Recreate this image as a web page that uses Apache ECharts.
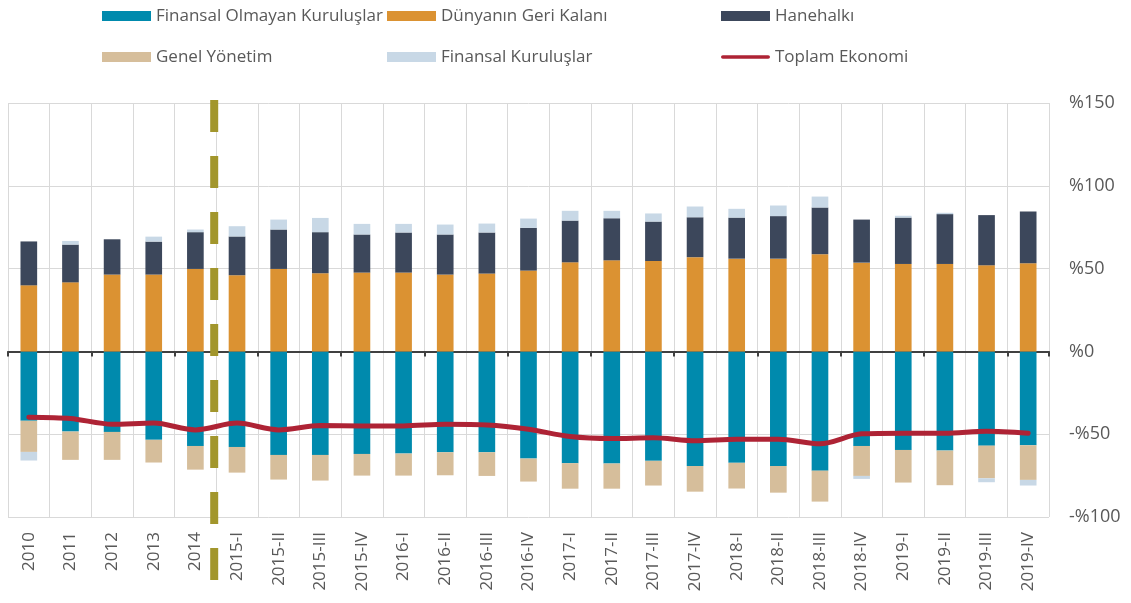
<!DOCTYPE html>
<html>
<head>
<meta charset="utf-8">
<script src="https://cdn.jsdelivr.net/npm/echarts@6/dist/echarts.min.js"></script>
<style>
  html, body { margin: 0; padding: 0; background: #fff; }
  #chart { width: 1131px; height: 603px; }
</style>
</head>
<body>
<div id="chart"></div>
<script>
var categories = ['2010', '2011', '2012', '2013', '2014',
  '2015-I', '2015-II', '2015-III', '2015-IV',
  '2016-I', '2016-II', '2016-III', '2016-IV',
  '2017-I', '2017-II', '2017-III', '2017-IV',
  '2018-I', '2018-II', '2018-III', '2018-IV',
  '2019-I', '2019-II', '2019-III', '2019-IV'];

var finansalOlmayan = [-41.9, -48.4, -48.6, -53.4, -57.1, -57.7, -62.5, -62.5, -61.9, -61.7, -60.9, -60.9, -64.7, -67.5, -67.7, -66.1, -69.2, -67.3, -69.2, -72.0, -57.1, -59.5, -59.9, -56.9, -56.7];
var dunyaninGeriKalani = [39.9, 41.7, 46.4, 46.4, 49.8, 46.0, 49.8, 47.2, 47.6, 47.6, 46.4, 47.0, 48.8, 53.8, 55.0, 54.6, 56.9, 56.0, 56.0, 58.7, 53.6, 52.8, 52.8, 52.0, 53.2];
var hanehalki = [26.5, 22.8, 21.3, 19.9, 22.2, 23.4, 23.8, 24.8, 23.0, 24.2, 24.2, 24.8, 25.8, 25.2, 25.4, 23.8, 24.1, 24.8, 25.7, 28.2, 26.0, 28.0, 30.1, 30.3, 31.3];
var genelYonetim = [-18.8, -17.1, -16.9, -13.7, -14.3, -15.5, -14.9, -15.5, -13.1, -13.3, -13.9, -14.3, -13.9, -15.4, -15.2, -14.9, -15.5, -15.5, -16.1, -18.7, -18.1, -19.7, -20.9, -19.7, -20.9];
var finansalKuruluslar = [-5.2, 2.2, 0, 3.0, 1.6, 6.2, 6.0, 8.6, 6.4, 5.2, 6.0, 5.4, 5.6, 5.9, 4.5, 4.9, 6.5, 5.3, 6.4, 6.6, -1.8, 1.1, 0.8, -2.4, -3.4];
var toplamEkonomi = [-39.7, -40.5, -44.0, -43.3, -47.4, -43.3, -47.4, -44.8, -45.0, -45.0, -44.0, -44.4, -47.0, -51.4, -52.6, -52.2, -54.0, -53.0, -53.0, -55.8, -49.8, -49.4, -49.4, -48.2, -49.4];
var yTicks = { min: -100, max: 150, step: 50 };

var FONT = '"Open Sans", sans-serif';
var TXT = '#595959';
var LINE_ICON = 'path://M2,0 L52,0 A2,2 0 0 1 52,4 L2,4 A2,2 0 0 1 2,0 Z';

var mychart = echarts.init(document.getElementById('chart'));

function barSeries(name, data, color) {
  return {
    name: name,
    type: 'bar',
    stack: 'total',
    barWidth: '40%',
    itemStyle: { color: color },
    data: data
  };
}

function legendCol(left, names) {
  return {
    orient: 'vertical',
    left: left,
    top: 6,
    padding: 0,
    itemWidth: 49,
    itemHeight: 10,
    itemGap: 21,
    textStyle: { fontFamily: FONT, fontSize: 17, color: TXT, lineHeight: 20 },
    data: names
  };
}

var option = {
  animation: false,
  textStyle: { fontFamily: FONT },
  legend: [
    legendCol(102, [{ name: 'Finansal Olmayan Kuruluşlar', icon: 'rect' }, { name: 'Genel Yönetim', icon: 'rect' }]),
    legendCol(387, [{ name: 'Dünyanın Geri Kalanı', icon: 'rect' }, { name: 'Finansal Kuruluşlar', icon: 'rect' }]),
    legendCol(721, [{ name: 'Hanehalkı', icon: 'rect' }, { name: 'Toplam Ekonomi', icon: LINE_ICON }])
  ],
  grid: { left: 8, right: 82, top: 103, bottom: 86 },
  xAxis: [
    {
      type: 'category',
      data: categories,
      position: 'bottom',
      axisLine: { show: false, onZero: false },
      axisTick: { show: false },
      splitLine: { show: true, lineStyle: { color: '#d9d9d9', width: 1 } },
      axisLabel: { interval: 0, rotate: 90, margin: 15, fontFamily: FONT, fontSize: 17, color: TXT }
    },
    {
      type: 'category',
      data: categories,
      position: 'bottom',
      axisLine: { show: true, onZero: true, lineStyle: { color: '#404040', width: 2 } },
      axisTick: { show: true, length: 5, lineStyle: { color: '#404040', width: 2 } },
      axisLabel: { show: false },
      splitLine: { show: false }
    }
  ],
  yAxis: {
    type: 'value',
    position: 'right',
    min: yTicks.min,
    max: yTicks.max,
    interval: yTicks.step,
    axisLine: { show: false },
    axisTick: { show: false },
    splitLine: { lineStyle: { color: '#d9d9d9', width: 1 } },
    axisLabel: {
      margin: 20,
      fontFamily: FONT,
      fontSize: 18,
      color: TXT,
      formatter: function (v) { return v < 0 ? '-%' + Math.abs(v) : '%' + v; }
    }
  },
  series: [
    barSeries('Finansal Olmayan Kuruluşlar', finansalOlmayan, '#008aad'),
    barSeries('Dünyanın Geri Kalanı', dunyaninGeriKalani, '#db9232'),
    barSeries('Hanehalkı', hanehalki, '#3c475b'),
    barSeries('Genel Yönetim', genelYonetim, '#d6be9b'),
    barSeries('Finansal Kuruluşlar', finansalKuruluslar, '#c8d8e6'),
    {
      name: 'Toplam Ekonomi',
      type: 'line',
      smooth: 0.3,
      symbol: 'none',
      z: 5,
      lineStyle: { color: '#ae2335', width: 5, cap: 'round' },
      itemStyle: { color: '#ae2335' },
      data: toplamEkonomi
    }
  ]
};
mychart.setOption(option);

// dashed separator between annual and quarterly data
var x1 = mychart.convertToPixel({ xAxisIndex: 0 }, '2014');
var x2 = mychart.convertToPixel({ xAxisIndex: 0 }, '2015-I');
var xs = (x1 + x2) / 2 - 2;
mychart.setOption({
  graphic: [{
    type: 'line',
    z: 10,
    shape: { x1: xs, y1: 100, x2: xs, y2: 580 },
    style: { stroke: '#a2962c', lineWidth: 8, lineDash: [32, 24] }
  }]
});
</script>
</body>
</html>
